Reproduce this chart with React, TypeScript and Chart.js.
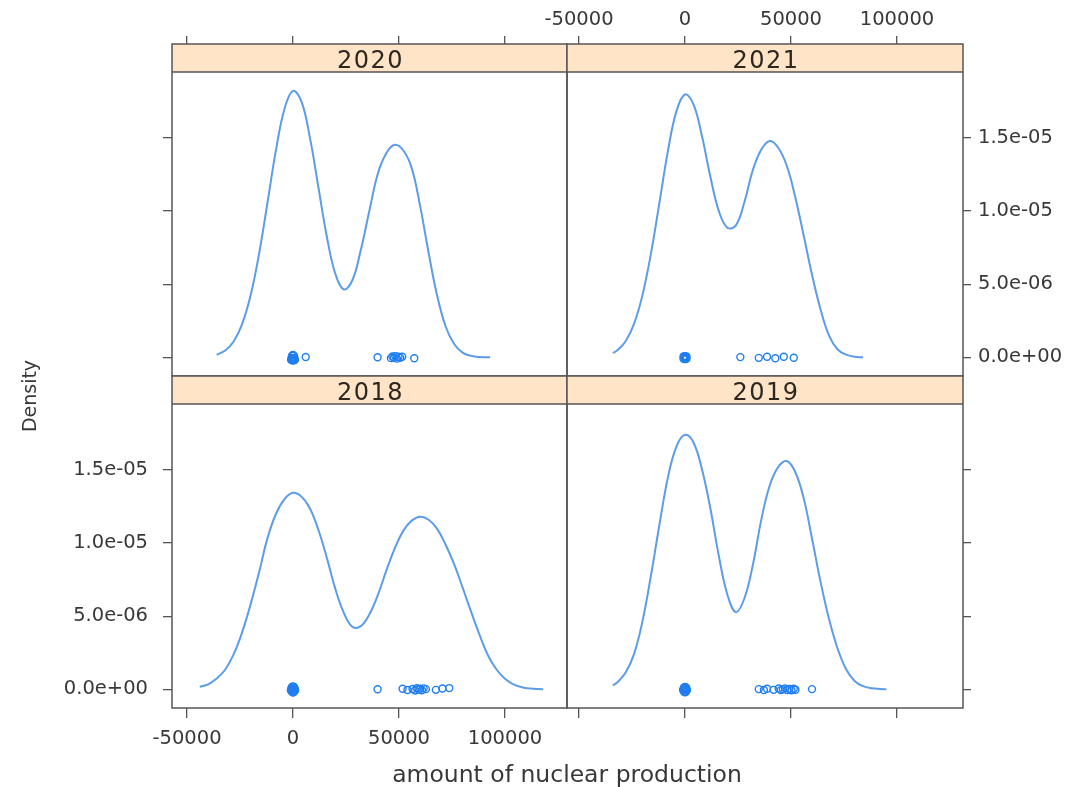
import React, { useEffect, useRef } from 'react';
import { Chart, registerables } from 'chart.js';
Chart.register(...registerables);

// ---------- data ----------
const X_TICKS = [-50000, 0, 50000, 100000];
const X_TICK_LABELS = ['-50000', '0', '50000', '100000'];
const Y_TICKS = [0, 5e-6, 1e-5, 1.5e-5];
const Y_TICK_LABELS = ['0.0e+00', '5.0e-06', '1.0e-05', '1.5e-05'];

// density curves (x = amount, y in units of 1e-6)
const dens2020X = [-36000, -32000, -28000, -24000, -20000, -16000, -12000, -8000, -4000, 0, 4000, 8000, 12000, 16000, 20000, 24000, 28000, 32000, 36000, 40000, 44000, 48000, 52000, 56000, 60000, 64000, 68000, 72000, 76000, 80000, 84000, 88000, 93000];
const dens2020Y = [0.18, 0.47, 1.09, 2.27, 4.24, 7.08, 10.6, 14.19, 16.99, 18.21, 17.47, 15.0, 11.61, 8.23, 5.7, 4.64, 5.27, 7.35, 10.0, 12.55, 13.95, 14.53, 14.15, 12.93, 10.32, 7.12, 4.21, 2.11, 0.92, 0.33, 0.11, 0.03, 0.01];

const dens2021X = [-34000, -32000, -28000, -24000, -20000, -16000, -12000, -8000, -4000, 0, 4000, 8000, 12000, 16000, 20000, 24000, 28000, 32000, 36000, 40000, 44000, 48000, 52000, 56000, 60000, 64000, 68000, 72000, 76000, 80000, 84000];
const dens2021Y = [0.3, 0.48, 1.11, 2.31, 4.29, 7.14, 10.62, 14.14, 16.84, 17.96, 17.29, 15.12, 12.32, 9.98, 8.86, 9.02, 10.6, 12.8, 14.2, 14.79, 14.32, 13.09, 10.96, 8.31, 5.59, 3.24, 1.47, 0.54, 0.19, 0.04, 0.01];

const dens2018X = [-44000, -40000, -36000, -32000, -28000, -24000, -20000, -16000, -12000, -8000, -4000, 0, 4000, 8000, 12000, 16000, 20000, 24000, 28000, 32000, 36000, 40000, 44000, 48000, 52000, 56000, 60000, 64000, 68000, 72000, 76000, 80000, 84000, 88000, 92000, 96000, 100000, 104000, 108000, 112000, 116000, 118000];
const dens2018Y = [0.18, 0.35, 0.74, 1.34, 2.39, 3.9, 5.81, 8.0, 10.35, 12.0, 13.0, 13.43, 13.17, 12.36, 10.89, 8.97, 6.85, 5.22, 4.28, 4.32, 5.12, 6.44, 8.11, 9.64, 10.83, 11.53, 11.8, 11.59, 10.97, 9.88, 8.56, 6.96, 5.31, 3.72, 2.32, 1.36, 0.73, 0.35, 0.15, 0.06, 0.02, 0.01];

const dens2019X = [-34000, -32000, -28000, -24000, -20000, -16000, -12000, -8000, -4000, 0, 4000, 8000, 12000, 16000, 20000, 24000, 28000, 32000, 36000, 40000, 44000, 48000, 52000, 56000, 60000, 64000, 68000, 72000, 76000, 80000, 84000, 88000, 92000, 95000];
const dens2019Y = [0.28, 0.47, 1.15, 2.43, 4.7, 7.83, 11.3, 14.52, 16.61, 17.39, 16.87, 15.04, 12.34, 9.08, 6.47, 5.28, 6.21, 8.5, 11.6, 13.95, 15.2, 15.6, 14.85, 13.05, 10.24, 7.31, 4.77, 2.78, 1.38, 0.58, 0.22, 0.08, 0.03, 0.01];

// observations (rug points, y = small vertical jitter, units of 1e-6)
const rug2020X = [-900, -450, 0, 450, 900, -700, -200, 250, 700, -450, 0, 450, 6000, 39900, 46200, 46900, 47600, 48300, 49000, 49800, 50600, 51500, 57200];
const rug2020Y = [-0.17, -0.19, -0.2, -0.19, -0.17, -0.04, -0.06, -0.06, -0.04, 0.12, 0.16, 0.12, 0.03, 0.01, -0.05, 0.06, -0.02, 0.09, -0.08, 0.04, -0.03, 0.05, -0.06];

const rug2021X = [-700, 0, 700, -700, 0, 700, -350, 350, 26100, 34800, 38700, 42600, 46600, 51300];
const rug2021Y = [-0.09, -0.12, -0.09, 0.06, 0.09, 0.06, -0.01, -0.01, 0.02, -0.03, 0.04, -0.06, 0.05, -0.02];

const rug2018X = [-1000, -500, 0, 500, 1000, -800, -250, 250, 800, -800, -250, 250, 800, -500, 0, 500, 39900, 51700, 54000, 56400, 57600, 58400, 59200, 60000, 60800, 61600, 62700, 67400, 70500, 73700];
const rug2018Y = [-0.05, -0.16, -0.21, -0.16, -0.05, 0.06, 0.03, 0.03, 0.06, -0.1, -0.09, -0.09, -0.1, 0.16, 0.21, 0.16, 0.01, 0.05, -0.04, 0.03, -0.07, 0.08, -0.01, 0.04, -0.06, 0.07, 0.02, -0.03, 0.06, 0.09];

const rug2019X = [-900, -450, 0, 450, 900, -700, -200, 250, 700, -450, 0, 450, 34800, 37200, 38700, 41800, 44200, 45200, 46200, 47200, 48200, 49200, 50200, 51300, 52100, 59900];
const rug2019Y = [-0.06, -0.16, -0.19, -0.16, -0.06, 0.04, 0.01, 0.01, 0.04, 0.13, 0.17, 0.13, 0.02, -0.04, 0.05, -0.03, 0.06, -0.05, 0.01, 0.07, -0.04, 0.03, -0.06, 0.04, -0.02, 0.02];

const Y_UNIT = 1e-6;
const X_TITLE = 'amount of nuclear production';
const Y_TITLE = 'Density';

// ---------- layout / style ----------
const W = 1075;
const H = 787;
const FONT = 'DejaVu Sans';
const CURVE = '#5c9ce8';
const RUG = '#1f7ef0';
const FRAME = '#555555';
const TEXT = '#383838';
const STRIP_BG = '#ffe4c8';
const STRIP_H = 28;
const X_LEFT_RANGE = [-57075, 129245];
const X_RIGHT_RANGE = [-55660, 131130];
const Y_RANGE = [-1.27e-6, 2.141e-5];

type PanelCfg = {
  name: string;
  dx: number[]; dy: number[]; rx: number[]; ry: number[];
  L: number; T: number; R: number; B: number;
  xPos: 'top' | 'bottom'; yPos: 'left' | 'right';
  xLabels: boolean; yLabels: boolean;
  xRange: number[];
  titles?: boolean;
};

const PANELS: PanelCfg[] = [
  { name: '2020', dx: dens2020X, dy: dens2020Y, rx: rug2020X, ry: rug2020Y, L: 172, T: 44, R: 567, B: 376, xPos: 'top', yPos: 'left', xLabels: false, yLabels: false, xRange: X_LEFT_RANGE },
  { name: '2021', dx: dens2021X, dy: dens2021Y, rx: rug2021X, ry: rug2021Y, L: 567, T: 44, R: 963, B: 376, xPos: 'top', yPos: 'right', xLabels: true, yLabels: true, xRange: X_RIGHT_RANGE },
  { name: '2018', dx: dens2018X, dy: dens2018Y, rx: rug2018X, ry: rug2018Y, L: 172, T: 376, R: 567, B: 708, xPos: 'bottom', yPos: 'left', xLabels: true, yLabels: true, xRange: X_LEFT_RANGE, titles: true },
  { name: '2019', dx: dens2019X, dy: dens2019Y, rx: rug2019X, ry: rug2019Y, L: 567, T: 376, R: 963, B: 708, xPos: 'bottom', yPos: 'right', xLabels: false, yLabels: false, xRange: X_RIGHT_RANGE },
];

const AX_TOP_H = 44;
const AX_BOTTOM_H = 50;
const AX_LEFT_W = 120;
const AX_RIGHT_W = 100;

const decorPlugin = {
  id: 'panelDecor',
  beforeDatasetsDraw(chart: any, _a: any, opts: any) {
    const { ctx, chartArea: ca } = chart;
    ctx.save();
    ctx.fillStyle = STRIP_BG;
    ctx.fillRect(ca.left, ca.top, ca.right - ca.left, STRIP_H);
    ctx.strokeStyle = FRAME;
    ctx.lineWidth = 1.5;
    ctx.beginPath();
    ctx.moveTo(ca.left, ca.top + STRIP_H);
    ctx.lineTo(ca.right, ca.top + STRIP_H);
    ctx.stroke();
    ctx.fillStyle = '#2e2720';
    ctx.font = `24px "${FONT}"`;
    try { (ctx as any).letterSpacing = '1.5px'; } catch (e) {}
    ctx.textAlign = 'center';
    ctx.textBaseline = 'alphabetic';
    ctx.fillText(opts.name, (ca.left + ca.right) / 2 + 1, ca.top + 24);
    ctx.restore();
  },
  afterDraw(chart: any, _a: any, opts: any) {
    const { ctx, chartArea: ca } = chart;
    ctx.save();
    ctx.strokeStyle = FRAME;
    ctx.lineWidth = 1.5;
    ctx.strokeRect(ca.left, ca.top, ca.right - ca.left, ca.bottom - ca.top);
    if (opts.titles) {
      ctx.fillStyle = TEXT;
      ctx.textAlign = 'center';
      ctx.textBaseline = 'alphabetic';
      ctx.font = `23.5px "${FONT}"`;
      ctx.fillText(X_TITLE, 567, 782);
      ctx.translate(36, 396);
      ctx.rotate(-Math.PI / 2);
      ctx.font = `19px "${FONT}"`;
      ctx.fillText(Y_TITLE, 0, 0);
    }
    ctx.restore();
  },
};

function Panel({ cfg }: { cfg: PanelCfg }) {
  const ref = useRef<HTMLCanvasElement | null>(null);
  useEffect(() => {
    if (!ref.current) return;
    const padding = {
      top: cfg.xPos === 'top' ? cfg.T - AX_TOP_H : cfg.T,
      bottom: cfg.xPos === 'bottom' ? H - cfg.B - AX_BOTTOM_H : H - cfg.B,
      left: cfg.yPos === 'left' ? cfg.L - AX_LEFT_W : cfg.L,
      right: cfg.yPos === 'right' ? W - cfg.R - AX_RIGHT_W : W - cfg.R,
    };
    const tickFont = { family: FONT, size: 19.5 };
    const chart = new Chart(ref.current, {
      type: 'line',
      data: {
        datasets: [
          {
            data: cfg.dx.map((x, i) => ({ x, y: cfg.dy[i] * Y_UNIT })),
            borderColor: CURVE,
            borderWidth: 2,
            pointRadius: 0,
            tension: 0.4,
            fill: false,
          },
          {
            data: cfg.rx.map((x, i) => ({ x, y: cfg.ry[i] * Y_UNIT })),
            showLine: false,
            pointRadius: 3.5,
            pointStyle: 'circle',
            borderColor: RUG,
            backgroundColor: 'rgba(0,0,0,0)',
            pointBorderWidth: 1.4,
          },
        ],
      } as any,
      options: {
        responsive: false,
        animation: false,
        events: [],
        layout: { padding },
        plugins: {
          legend: { display: false },
          tooltip: { enabled: false },
          panelDecor: { name: cfg.name, titles: !!cfg.titles },
        } as any,
        scales: {
          x: {
            type: 'linear',
            position: cfg.xPos,
            min: cfg.xRange[0],
            max: cfg.xRange[1],
            afterBuildTicks: (a: any) => { a.ticks = X_TICKS.map((v) => ({ value: v })); },
            afterFit: (s: any) => { s.height = cfg.xPos === 'top' ? AX_TOP_H : AX_BOTTOM_H; },
            ticks: {
              display: cfg.xLabels,
              autoSkip: false,
              maxRotation: 0,
              font: tickFont,
              color: TEXT,
              padding: cfg.xPos === 'top' ? 4 : 9,
              callback: (_v: any, i: number) => X_TICK_LABELS[i],
            },
            grid: { drawOnChartArea: false, drawTicks: true, tickLength: cfg.xPos === 'top' ? 8 : 10, color: FRAME, lineWidth: 1.3 },
            border: { display: false },
          },
          y: {
            type: 'linear',
            position: cfg.yPos,
            min: Y_RANGE[0],
            max: Y_RANGE[1],
            afterBuildTicks: (a: any) => { a.ticks = Y_TICKS.map((v) => ({ value: v })); },
            afterFit: (s: any) => { s.width = cfg.yPos === 'left' ? AX_LEFT_W : AX_RIGHT_W; },
            ticks: {
              display: cfg.yLabels,
              autoSkip: false,
              font: tickFont,
              color: TEXT,
              padding: cfg.yPos === 'left' ? 15 : 7,
              callback: (_v: any, i: number) => Y_TICK_LABELS[i],
            },
            grid: { drawOnChartArea: false, drawTicks: true, tickLength: cfg.yPos === 'left' ? 9 : 8, color: FRAME, lineWidth: 1.3 },
            border: { display: false },
          },
        },
      } as any,
      plugins: [decorPlugin],
    });
    return () => chart.destroy();
  }, []);
  return (
    <canvas
      ref={ref}
      width={W}
      height={H}
      style={{ position: 'absolute', left: 0, top: 0, width: W, height: H }}
    />
  );
}

export default function App() {
  useEffect(() => {
    document.documentElement.style.overflow = 'hidden';
    document.body.style.overflow = 'hidden';
    document.body.style.margin = '0';
  }, []);
  return (
    <div style={{ position: 'fixed', left: 0, top: 0, width: W, height: H, background: '#fff', overflow: 'hidden' }}>
      {PANELS.map((p) => (
        <Panel key={p.name} cfg={p} />
      ))}
    </div>
  );
}
